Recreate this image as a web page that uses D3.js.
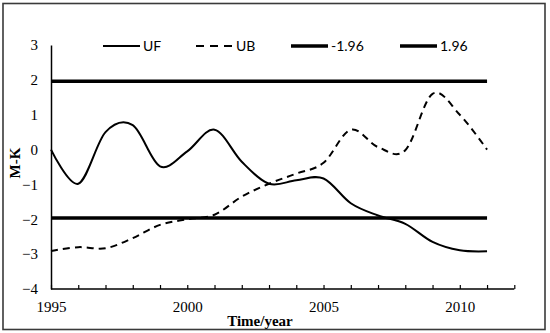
<!DOCTYPE html>
<html>
<head>
<meta charset="utf-8">
<script src="https://cdn.jsdelivr.net/npm/d3@7/dist/d3.min.js"></script>
<style>
  html, body { margin: 0; padding: 0; background: #fff; }
  svg { display: block; }
</style>
</head>
<body>
<svg id="chart" width="550" height="333"></svg>
<script>
// ---- data ----
const years = [1995,1996,1997,1998,1999,2000,2001,2002,2003,2004,2005,2006,2007,2008,2009,2010,2011];
const UF = [0, -0.98, 0.5, 0.7, -0.48, -0.05, 0.57, -0.35, -0.98, -0.88, -0.83, -1.54, -1.89, -2.13, -2.65, -2.89, -2.92];
const UB = [-2.91, -2.8, -2.83, -2.54, -2.16, -2.0, -1.87, -1.35, -0.98, -0.69, -0.38, 0.57, 0.07, -0.02, 1.6, 1.0, 0.0];
const lower = -1.96;
const upper = 1.96;
const yTicks = [3, 2, 1, 0, -1, -2, -3, -4];
const xLabelTicks = [1995, 2000, 2005, 2010];
const xMinorTicks = [1995,1996,1997,1998,1999,2000,2001,2002,2003,2004,2005,2006,2007,2008,2009,2010,2011,2012];
const legendItems = [
  {key: "UF", type: "solid"},
  {key: "UB", type: "dash"},
  {key: "-1.96", type: "thick"},
  {key: "1.96", type: "thick"}
];

const svg = d3.select("#chart");

// outer border
svg.append("rect").attr("x", 3).attr("y", 3.5).attr("width", 542).attr("height", 326)
  .attr("fill", "none").attr("stroke", "#3a3a3a").attr("stroke-width", 1.6);

const x = d3.scaleLinear().domain([1995, 2012]).range([51, 514.3]);
const y = d3.scaleLinear().domain([-4, 3]).range([289, 45]);

const serif = "'Liberation Serif', 'Times New Roman', serif";

// y axis
const yAxis = d3.axisLeft(y).tickValues(yTicks).tickSize(0).tickPadding(13).tickFormat(d3.format("d"));
const gy = svg.append("g").attr("transform", `translate(${x(1995)},0)`).call(yAxis);
gy.select(".domain").attr("stroke", "#000").attr("stroke-width", 1.5);
gy.selectAll("text").attr("font-family", serif).attr("font-size", 15).attr("fill", "#000");

// x axis: minor ticks (inside), major ticks, labels
const xAxisMinor = d3.axisTop(x).tickValues(xMinorTicks).tickSize(4).tickFormat("");
const gx = svg.append("g").attr("transform", `translate(0,${y(-4)})`).call(xAxisMinor);
gx.select(".domain").attr("stroke", "#000").attr("stroke-width", 1.5).attr("d", `M${x(1995)},0H${x(2012)}`);
gx.selectAll(".tick line").attr("stroke", "#000").attr("stroke-width", 1.2);

const xAxisLabels = d3.axisBottom(x).tickValues(xLabelTicks).tickSize(0).tickPadding(12).tickFormat(d3.format("d"));
const gx2 = svg.append("g").attr("transform", `translate(0,${y(-4)})`).call(xAxisLabels);
gx2.select(".domain").remove();
gx2.selectAll("text").attr("font-family", serif).attr("font-size", 15).attr("fill", "#000");

// threshold lines
[lower, upper].forEach(v => {
  svg.append("line")
    .attr("x1", x(years[0])).attr("x2", x(years[years.length - 1]))
    .attr("y1", y(v)).attr("y2", y(v))
    .attr("stroke", "#000").attr("stroke-width", 3.5);
});

// curves
const line = d3.line().x((d, i) => x(years[i])).y(d => y(d)).curve(d3.curveCardinal.tension(0));
svg.append("path").datum(UF).attr("d", line)
  .attr("fill", "none").attr("stroke", "#000").attr("stroke-width", 2);
svg.append("path").datum(UB).attr("d", line)
  .attr("fill", "none").attr("stroke", "#000").attr("stroke-width", 2)
  .attr("stroke-dasharray", "7,5");

// axis titles
svg.append("text").attr("x", 260).attr("y", 326).attr("text-anchor", "middle")
  .attr("font-family", serif).attr("font-size", 15).attr("font-weight", "bold").text("Time/year");
svg.append("text").attr("transform", "translate(20,163) rotate(-90)").attr("text-anchor", "middle")
  .attr("font-family", serif).attr("font-size", 15).attr("font-weight", "bold").text("M-K");

// legend
const legendX = [103, 196, 291, 400];
const lg = svg.append("g");
legendItems.forEach((it, i) => {
  const x0 = legendX[i];
  const l = lg.append("line").attr("x1", x0).attr("x2", x0 + 37).attr("y1", 46).attr("y2", 46)
    .attr("stroke", "#000");
  if (it.type === "solid") l.attr("stroke-width", 2);
  if (it.type === "dash") l.attr("stroke-width", 2).attr("stroke-dasharray", "8,6");
  if (it.type === "thick") l.attr("stroke-width", 3.5);
  lg.append("text").attr("x", x0 + 40).attr("y", 51)
    .attr("font-family", "Lato, 'Open Sans', sans-serif").attr("font-size", 14).attr("fill", "#000")
    .text(it.key);
});
</script>
</body>
</html>
